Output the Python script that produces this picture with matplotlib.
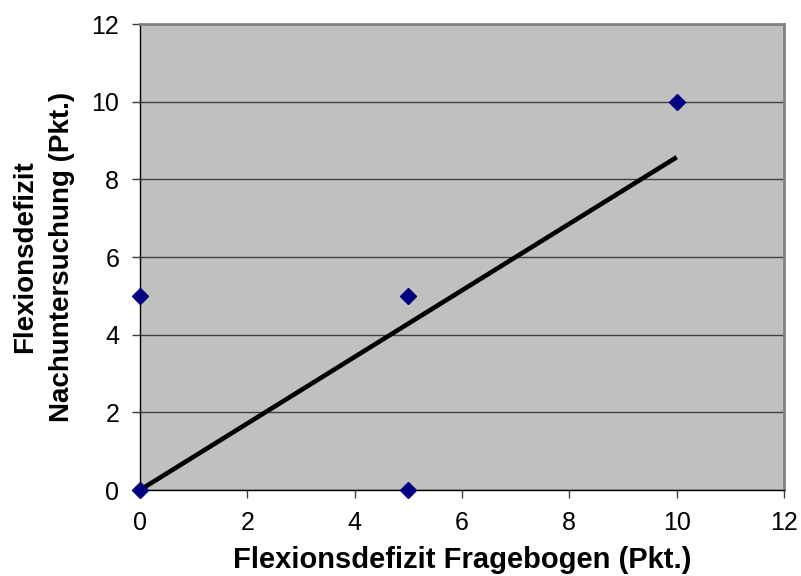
import matplotlib
matplotlib.use('Agg')
import matplotlib.pyplot as plt

plt.rcParams['font.family'] = ['Liberation Sans', 'DejaVu Sans']

# Messwerte: Fragebogen vs. Nachuntersuchung
fragebogen = [0, 0, 5, 5, 10]
nachuntersuchung = [0, 5, 5, 0, 10]

# lineare Trendlinie
trend_x = [0, 10]
trend_y = [0, 8.57]

fig = plt.figure(figsize=(8.01, 5.76), dpi=100)
ax = fig.add_axes([0.1748, 0.1493, 0.9788 - 0.1748, 0.9583 - 0.1493])
ax.set_facecolor('#C0C0C0')

ax.plot(trend_x, trend_y, color='black', linewidth=3.3, zorder=3,
        solid_capstyle='butt')
ax.plot(fragebogen, nachuntersuchung, linestyle='none', marker='D',
        markersize=8, color='#000080', zorder=4, clip_on=False)

ax.set_xlim(0, 12)
ax.set_ylim(0, 12)
ax.set_xticks(range(0, 13, 2))
ax.set_yticks(range(0, 13, 2))
ax.yaxis.grid(True, color='#404040', linewidth=1)
ax.set_axisbelow(True)

ax.tick_params(direction='out', length=6, width=1, labelsize=18, pad=9,
               color='#404040')
for side in ['left', 'bottom']:
    ax.spines[side].set_color('black')
    ax.spines[side].set_linewidth(1)
for side in ['top', 'right']:
    ax.spines[side].set_color('#808080')
    ax.spines[side].set_linewidth(2)

ax.set_xlabel('Flexionsdefizit Fragebogen (Pkt.)', fontsize=21,
              fontweight='bold', labelpad=8)
ax.set_ylabel('Flexionsdefizit\nNachuntersuchung (Pkt.)', fontsize=20,
              fontweight='bold', labelpad=12, linespacing=1.55)

fig.savefig('out.png', dpi=100)
